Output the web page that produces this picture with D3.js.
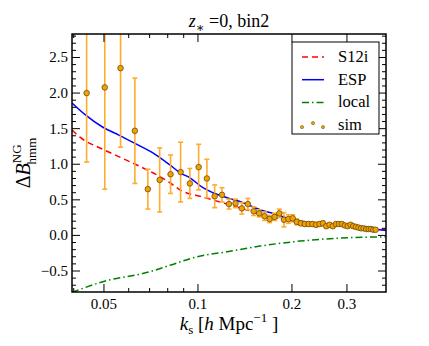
<!DOCTYPE html>
<html>
<head>
<meta charset="utf-8">
<script src="https://cdn.jsdelivr.net/npm/d3@7"></script>
<style>
  body { margin: 0; background: #fff; }
  svg { display: block; font-family: "Liberation Serif", "DejaVu Serif", serif; }
</style>
</head>
<body>
<svg id="chart" width="429" height="346"></svg>
<script>
// sim measurements: k, value, 1-sigma
const simK = [0.0440, 0.0503, 0.0565, 0.0628, 0.0691, 0.0754, 0.0817, 0.0880, 0.0942, 0.1005,
  0.1068, 0.1131, 0.1194, 0.1257, 0.1319, 0.1382, 0.1445, 0.1508, 0.1571, 0.1634,
  0.1696, 0.1759, 0.1822, 0.1885, 0.1948, 0.2011, 0.2073, 0.2136, 0.2199, 0.2262,
  0.2325, 0.2388, 0.2450, 0.2513, 0.2576, 0.2639, 0.2702, 0.2765, 0.2827, 0.2890,
  0.2953, 0.3016, 0.3079, 0.3142, 0.3204, 0.3267, 0.3330, 0.3393, 0.3456, 0.3519,
  0.3581, 0.3644, 0.3707];
const simVal = [2.00, 2.08, 2.35, 1.47, 0.65, 0.78, 0.86, 0.89, 0.73, 0.96,
  0.80, 0.55, 0.57, 0.44, 0.45, 0.38, 0.44, 0.34, 0.31, 0.27,
  0.23, 0.26, 0.31, 0.22, 0.23, 0.24, 0.19, 0.17, 0.16, 0.16,
  0.16, 0.15, 0.16, 0.17, 0.13, 0.15, 0.13, 0.16, 0.16, 0.16,
  0.14, 0.13, 0.15, 0.13, 0.12, 0.11, 0.10, 0.10, 0.09, 0.09,
  0.09, 0.08, 0.08];
const simErr = [0.97, 1.43, 1.11, 0.74, 0.28, 0.45, 0.27, 0.42, 0.21, 0.32,
  0.27, 0.16, 0.10, 0.07, 0.06, 0.08, 0.08, 0.06, 0.05, 0.06,
  0.05, 0.05, 0.06, 0.10, 0.06, 0.05, 0.04, 0.03, 0.03, 0.03,
  0.03, 0.03, 0.03, 0.03, 0.03, 0.02, 0.02, 0.02, 0.02, 0.02,
  0.02, 0.02, 0.02, 0.02, 0.02, 0.02, 0.02, 0.02, 0.02, 0.02,
  0.02, 0.02, 0.02];

// model curves
const espK = [0.0395, 0.0434, 0.0496, 0.0558, 0.0624, 0.0717, 0.0813, 0.0876, 0.0943, 0.1037,
  0.1117, 0.1239, 0.1394, 0.1580, 0.1740, 0.2016, 0.2787, 0.4001];
const espVal = [1.86, 1.70, 1.52, 1.41, 1.30, 1.16, 0.99, 0.88, 0.81, 0.67,
  0.60, 0.53, 0.46, 0.36, 0.31, 0.22, 0.15, 0.07];

const s12iK = [0.0395, 0.0419, 0.0496, 0.0562, 0.0637, 0.0717, 0.0813, 0.0876, 0.1037, 0.1176,
  0.1333, 0.1501, 0.1702, 0.1971, 0.2457, 0.3069, 0.4001];
const s12iVal = [1.48, 1.38, 1.21, 1.10, 0.99, 0.88, 0.74, 0.64, 0.54, 0.47,
  0.40, 0.33, 0.26, 0.21, 0.16, 0.12, 0.08];

const localK = [0.0395, 0.0496, 0.0702, 0.0813, 0.0993, 0.1239, 0.1580, 0.2121, 0.2787, 0.4001];
const localVal = [-0.80, -0.65, -0.51, -0.42, -0.30, -0.23, -0.15, -0.08, -0.04, -0.02];

const xMajor = [0.05, 0.1, 0.2, 0.3];
const xMinor = [0.04, 0.06, 0.07, 0.08, 0.09, 0.4];
const yMajor = [-0.5, 0.0, 0.5, 1.0, 1.5, 2.0, 2.5];

const pLeft = 72, pRight = 386, pTop = 34, pBottom = 292;

const svg = d3.select('#chart');

const x = d3.scaleLog().domain([0.0395, 0.4001]).range([pLeft, pRight]);
const y = d3.scaleLinear().domain([-0.795, 2.83]).range([pBottom, pTop]);

svg.append('defs').append('clipPath').attr('id', 'plot-clip')
  .append('rect')
  .attr('x', pLeft).attr('y', pTop)
  .attr('width', pRight - pLeft).attr('height', pBottom - pTop);

const plot = svg.append('g').attr('clip-path', 'url(#plot-clip)');

const line = d3.line()
  .x(d => x(d[0]))
  .y(d => y(d[1]))
  .curve(d3.curveMonotoneX);

plot.append('path')
  .datum(d3.zip(localK, localVal))
  .attr('d', line)
  .attr('fill', 'none')
  .attr('stroke', '#008000')
  .attr('stroke-width', 1.5)
  .attr('stroke-dasharray', '7,3,1.5,3');

plot.append('path')
  .datum(d3.zip(s12iK, s12iVal))
  .attr('d', line)
  .attr('fill', 'none')
  .attr('stroke', '#ff0000')
  .attr('stroke-width', 1.5)
  .attr('stroke-dasharray', '6,4');

plot.append('path')
  .datum(d3.zip(espK, espVal))
  .attr('d', line)
  .attr('fill', 'none')
  .attr('stroke', '#0000ff')
  .attr('stroke-width', 1.5);

const sim = simK.map((k, i) => ({ k, v: simVal[i], e: simErr[i] }));

// error bars
const bars = plot.append('g')
  .attr('stroke', '#ffab2e')
  .attr('stroke-width', 1.6);
bars.selectAll('line.bar')
  .data(sim)
  .enter()
  .append('line')
  .attr('class', 'bar')
  .attr('x1', d => x(d.k)).attr('x2', d => x(d.k))
  .attr('y1', d => y(d.v - d.e)).attr('y2', d => y(d.v + d.e));
['lo', 'hi'].forEach(side => {
  bars.selectAll(`line.cap-${side}`)
    .data(sim)
    .enter()
    .append('line')
    .attr('class', `cap-${side}`)
    .attr('x1', d => x(d.k) - 2.5).attr('x2', d => x(d.k) + 2.5)
    .attr('y1', d => y(side === 'lo' ? d.v - d.e : d.v + d.e))
    .attr('y2', d => y(side === 'lo' ? d.v - d.e : d.v + d.e));
});

plot.append('g').selectAll('circle')
  .data(sim)
  .enter()
  .append('circle')
  .attr('cx', d => x(d.k))
  .attr('cy', d => y(d.v))
  .attr('r', 2.8)
  .attr('fill', '#f2a200')
  .attr('stroke', '#5a4010')
  .attr('stroke-width', 0.7);

// frame and ticks (all pointing inward)
const axes = svg.append('g').attr('stroke', '#000');

const tickX = (v, len) => {
  axes.append('line').attr('x1', x(v)).attr('x2', x(v)).attr('y1', pBottom).attr('y2', pBottom - len).attr('stroke-width', 1);
  axes.append('line').attr('x1', x(v)).attr('x2', x(v)).attr('y1', pTop).attr('y2', pTop + len).attr('stroke-width', 1);
};
xMajor.forEach(v => tickX(v, 8));
xMinor.filter(v => v > 0.0396 && v < 0.4).forEach(v => tickX(v, 4));

const yMinor = d3.range(-7, 29).map(i => i / 10).filter(v => !yMajor.some(m => Math.abs(m - v) < 1e-6));
const tickY = (v, len) => {
  axes.append('line').attr('x1', pLeft).attr('x2', pLeft + len).attr('y1', y(v)).attr('y2', y(v)).attr('stroke-width', 1);
  axes.append('line').attr('x1', pRight).attr('x2', pRight - len).attr('y1', y(v)).attr('y2', y(v)).attr('stroke-width', 1);
};
yMajor.forEach(v => tickY(v, 8));
yMinor.forEach(v => tickY(v, 4));

axes.append('rect')
  .attr('x', pLeft).attr('y', pTop)
  .attr('width', pRight - pLeft).attr('height', pBottom - pTop)
  .attr('fill', 'none')
  .attr('stroke-width', 1.5);

// tick labels
svg.append('g').selectAll('text')
  .data(xMajor)
  .enter()
  .append('text')
  .attr('x', d => x(d))
  .attr('y', pBottom + 17)
  .attr('text-anchor', 'middle')
  .attr('font-size', 15)
  .text(d => d);

svg.append('g').selectAll('text')
  .data(yMajor)
  .enter()
  .append('text')
  .attr('x', pLeft - 4)
  .attr('y', d => y(d) + 5)
  .attr('text-anchor', 'end')
  .attr('font-size', 15)
  .text(d => (d < 0 ? '\u2212' : '') + Math.abs(d).toFixed(1));

// title
const title = svg.append('text')
  .attr('x', (pLeft + pRight) / 2)
  .attr('y', 27)
  .attr('text-anchor', 'middle')
  .attr('font-size', 18);
title.append('tspan').attr('font-style', 'italic').text('z');
title.append('tspan').attr('font-size', 13).attr('dy', 5).text('\u2217');
title.append('tspan').attr('dy', -5).text(' =0, bin2');

// x label
const xlab = svg.append('text')
  .attr('x', (pLeft + pRight) / 2)
  .attr('y', 330)
  .attr('text-anchor', 'middle')
  .attr('font-size', 19);
xlab.append('tspan').attr('font-style', 'italic').text('k');
xlab.append('tspan').attr('font-size', 13).attr('dy', 4).text('s');
xlab.append('tspan').attr('dy', -4).text(' [');
xlab.append('tspan').attr('font-style', 'italic').text('h');
xlab.append('tspan').text(' Mpc');
xlab.append('tspan').attr('font-size', 13).attr('dy', -8).text('\u22121');
xlab.append('tspan').attr('dy', 8).text(' ]');

// y label
const ylab = svg.append('text')
  .attr('transform', `translate(30,${(pTop + pBottom) / 2}) rotate(-90)`)
  .attr('text-anchor', 'middle')
  .attr('font-size', 20);
ylab.append('tspan').text('\u0394');
ylab.append('tspan').attr('font-style', 'italic').text('B');
ylab.append('tspan').attr('font-size', 13).attr('dy', -9).text('NG');
ylab.append('tspan').attr('font-size', 13).attr('dx', -20).attr('dy', 15).text('hmm');

// legend
const lg = svg.append('g');
lg.append('rect')
  .attr('x', 292).attr('y', 42)
  .attr('width', 87).attr('height', 92)
  .attr('fill', '#fff')
  .attr('stroke', '#000')
  .attr('stroke-width', 1);

const legendNames = ['S12i', 'ESP', 'local', 'sim'];
const legendColors = ['#ff0000', '#0000ff', '#008000', null];
const legendDash = ['6,4', null, '7,3,1.5,3', null];
legendNames.forEach((name, i) => {
  const ly = 57 + i * 22.7;
  if (legendColors[i]) {
    lg.append('line')
      .attr('x1', 302).attr('x2', 324)
      .attr('y1', ly).attr('y2', ly)
      .attr('stroke', legendColors[i])
      .attr('stroke-width', 1.5)
      .attr('stroke-dasharray', legendDash[i]);
  } else {
    [[302, 2], [313, -2], [323, 2]].forEach(([px, off]) => {
      lg.append('circle')
        .attr('cx', px).attr('cy', ly + off)
        .attr('r', 1.6)
        .attr('fill', '#f2a200')
        .attr('stroke', '#5a4010')
        .attr('stroke-width', 0.5);
    });
  }
  lg.append('text')
    .attr('x', 338)
    .attr('y', ly + 5)
    .attr('font-size', 16.5)
    .text(name);
});
</script>
</body>
</html>
